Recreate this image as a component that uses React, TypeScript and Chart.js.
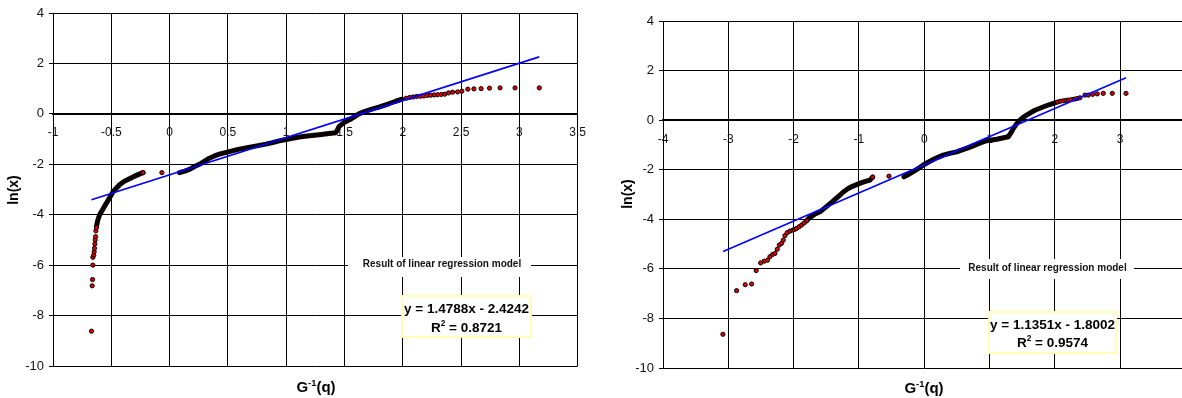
import React, { useEffect, useRef } from "react";
import { Chart, registerables } from "chart.js";

Chart.register(...registerables);

const FONT = 'Arial, "Liberation Sans", Helvetica, sans-serif';

// ---------- Axis ranges ----------
const yMin = -10;
const yMax = 4;
const yStep = 2;
const leftXMin = -1;
const leftXMax = 3.5;
const leftXStep = 0.5;
const rightXMin = -4;
const rightXMax = 4;
const rightXStep = 1;

// ---------- Left chart data ----------
const leftDenseAX = [-0.627, -0.615, -0.6, -0.585, -0.57, -0.55, -0.527, -0.505, -0.485, -0.455, -0.427, -0.4, -0.37, -0.34, -0.313, -0.27, -0.228];
const leftDenseAY = [-4.46, -4.2, -4.0, -3.88, -3.76, -3.6, -3.43, -3.25, -3.09, -2.94, -2.8, -2.71, -2.63, -2.56, -2.5, -2.41, -2.33];
const leftDenseBX = [0.085, 0.13, 0.171, 0.21, 0.256, 0.3, 0.342, 0.385, 0.427, 0.47, 0.513, 0.555, 0.598, 0.655, 0.712, 0.77, 0.826, 0.883, 0.94, 1.0, 1.054, 1.111, 1.2, 1.282, 1.35, 1.425, 1.44, 1.453, 1.475, 1.496, 1.525, 1.553, 1.59, 1.624, 1.665, 1.709, 1.75, 1.795, 1.84, 1.88, 1.94, 1.994];
const leftDenseBY = [-2.33, -2.27, -2.2, -2.1, -2.0, -1.88, -1.76, -1.67, -1.6, -1.55, -1.5, -1.45, -1.4, -1.35, -1.3, -1.25, -1.2, -1.14, -1.07, -1.02, -0.97, -0.92, -0.87, -0.83, -0.79, -0.75, -0.63, -0.51, -0.42, -0.34, -0.27, -0.21, -0.1, 0.0, 0.08, 0.15, 0.21, 0.27, 0.34, 0.4, 0.5, 0.58];
const leftMarkX = [-0.6695, -0.6638, -0.661, -0.658, -0.658, -0.65, -0.647, -0.644, -0.641, -0.638, -0.635, -0.632, -0.627, -0.228, -0.066, 2.03, 2.06, 2.09, 2.12, 2.15, 2.18, 2.21, 2.24, 2.27, 2.3, 2.33, 2.36, 2.393, 2.427, 2.47, 2.507, 2.558, 2.61, 2.672, 2.744, 2.835, 2.963, 3.171];
const leftMarkY = [-8.62, -6.82, -6.57, -6.0, -5.69, -5.6, -5.47, -5.33, -5.16, -5.0, -4.87, -4.64, -4.51, -2.33, -2.33, 0.62, 0.65, 0.67, 0.69, 0.7, 0.71, 0.73, 0.74, 0.75, 0.76, 0.77, 0.78, 0.83, 0.86, 0.87, 0.9, 0.98, 0.99, 1.0, 1.02, 1.03, 1.03, 1.03];
const leftFitX = [-0.67, 3.17];
const leftFitY = [-3.41, 2.26];
const leftEquation = "y = 1.4788x - 2.4242";
const leftR2 = "0.8721";

// ---------- Right chart data ----------
const rightDenseAX = [-1.801, -1.75, -1.68, -1.597, -1.53, -1.47, -1.41, -1.367, -1.3, -1.24, -1.17, -1.1, -1.035, -0.97, -0.9, -0.831, -0.79];
const rightDenseAY = [-4.06, -3.92, -3.8, -3.7, -3.56, -3.43, -3.3, -3.2, -3.05, -2.9, -2.77, -2.67, -2.6, -2.53, -2.47, -2.42, -2.3];
const rightDenseBX = [-0.311, -0.24, -0.168, -0.09, -0.015, 0.06, 0.138, 0.21, 0.291, 0.39, 0.496, 0.57, 0.649, 0.73, 0.802, 0.88, 0.955, 1.03, 1.108, 1.2, 1.286, 1.33, 1.363, 1.41, 1.465, 1.51, 1.567, 1.63, 1.695, 1.77, 1.848, 1.92, 2.002];
const rightDenseBY = [-2.29, -2.19, -2.08, -1.95, -1.81, -1.7, -1.59, -1.5, -1.41, -1.34, -1.28, -1.21, -1.14, -1.06, -0.98, -0.9, -0.83, -0.8, -0.77, -0.72, -0.67, -0.5, -0.34, -0.16, 0.0, 0.1, 0.2, 0.3, 0.4, 0.48, 0.56, 0.63, 0.7];
const rightMarkX = [-3.083, -2.873, -2.741, -2.643, -2.573, -2.505, -2.45, -2.399, -2.363, -2.322, -2.286, -2.251, -2.22, -2.184, -2.159, -2.133, -2.098, -2.057, -2.015, -1.985, -1.954, -1.915, -1.877, -1.84, -1.801, -0.79, -0.54, 2.04, 2.08, 2.128, 2.17, 2.21, 2.256, 2.3, 2.34, 2.384, 2.461, 2.512, 2.579, 2.65, 2.741, 2.879, 3.089];
const rightMarkY = [-8.64, -6.88, -6.64, -6.61, -6.07, -5.76, -5.69, -5.65, -5.51, -5.42, -5.38, -5.21, -5.04, -4.97, -4.84, -4.66, -4.54, -4.48, -4.44, -4.41, -4.37, -4.3, -4.23, -4.15, -4.06, -2.3, -2.26, 0.73, 0.76, 0.78, 0.8, 0.81, 0.83, 0.85, 0.87, 0.9, 1.01, 1.01, 1.04, 1.06, 1.08, 1.08, 1.08];
const rightFitX = [-3.08, 3.09];
const rightFitY = [-5.3, 1.71];
const rightEquation = "y = 1.1351x - 1.8002";
const rightR2 = "0.9574";

const resultLabel = "Result of linear regression model";
const yTitle = "ln(x)";

type Run = { t: string; sup?: boolean };

function zip(xs: number[], ys: number[]) {
  return xs.map((x, i) => ({ x, y: ys[i] }));
}

function fmt(v: number | string) {
  const n = Number(v);
  return String(Math.round(n * 100) / 100);
}

function drawRuns(ctx: CanvasRenderingContext2D, runs: Run[], cx: number, baseline: number, size: number) {
  const widths = runs.map((r) => {
    ctx.font = `bold ${r.sup ? size * 0.62 : size}px ${FONT}`;
    return ctx.measureText(r.t).width;
  });
  const total = widths.reduce((a, b) => a + b, 0);
  let x = cx - total / 2;
  ctx.textAlign = "left";
  ctx.textBaseline = "alphabetic";
  runs.forEach((r, i) => {
    ctx.font = `bold ${r.sup ? size * 0.62 : size}px ${FONT}`;
    ctx.fillText(r.t, x, r.sup ? baseline - size * 0.42 : baseline);
    x += widths[i];
  });
}

type Layout = {
  yTitleX: number;
  yTitleY: number;
  xTitleX: number;
  xTitleBase: number;
  resX: number;
  resY: number;
  resRect: [number, number, number, number];
  box: [number, number, number, number];
  line1Base: number;
  line2Base: number;
};

function makePlugin(layout: Layout, equation: string, r2: string) {
  return {
    id: "annot",
    afterDraw(chart: any) {
      const ctx: CanvasRenderingContext2D = chart.ctx;
      ctx.save();
      ctx.fillStyle = "#000";
      // y title
      ctx.save();
      ctx.translate(layout.yTitleX, layout.yTitleY);
      ctx.rotate(-Math.PI / 2);
      ctx.font = `bold 14px ${FONT}`;
      ctx.textAlign = "center";
      ctx.textBaseline = "middle";
      ctx.fillText(yTitle, 0, 0);
      ctx.restore();
      // x title
      ctx.fillStyle = "#000";
      drawRuns(ctx, [{ t: "G" }, { t: "-1", sup: true }, { t: "(q)" }], layout.xTitleX, layout.xTitleBase, 15);
      // result label
      const [rx, ry, rw, rh] = layout.resRect;
      ctx.fillStyle = "#fff";
      ctx.fillRect(rx, ry, rw, rh);
      ctx.fillStyle = "#111";
      ctx.font = `bold 10px ${FONT}`;
      ctx.textAlign = "center";
      ctx.textBaseline = "middle";
      ctx.fillText(resultLabel, layout.resX, layout.resY);
      // equation box
      const [bx, by, bw, bh] = layout.box;
      ctx.fillStyle = "#fff";
      ctx.fillRect(bx, by, bw, bh);
      ctx.strokeStyle = "#ffffb8";
      ctx.lineWidth = 2;
      ctx.strokeRect(bx, by, bw, bh);
      ctx.fillStyle = "#000";
      const cx = bx + bw / 2;
      drawRuns(ctx, [{ t: equation }], cx, layout.line1Base, 13.5);
      drawRuns(ctx, [{ t: "R" }, { t: "2", sup: true }, { t: " = " + r2 }], cx, layout.line2Base, 13.5);
      ctx.restore();
    },
  };
}

function buildConfig(opts: {
  denseA: { x: number; y: number }[];
  denseB: { x: number; y: number }[];
  marks: { x: number; y: number }[];
  fit: { x: number; y: number }[];
  xMin: number;
  xMax: number;
  xStep: number;
  yWidth: number;
  padding: { top: number; bottom: number; right: number; left: number };
  plugin: any;
}): any {
  const denseStyle = {
    showLine: true,
    borderColor: "#0a0000",
    borderWidth: 5,
    borderCapStyle: "round",
    borderJoinStyle: "round",
    pointRadius: 0,
    order: 3,
  };
  return {
    type: "scatter",
    data: {
      datasets: [
        { ...denseStyle, data: opts.denseA },
        { ...denseStyle, data: opts.denseB },
        {
          data: opts.marks,
          showLine: false,
          pointRadius: 2.1,
          pointBorderWidth: 1,
          pointBorderColor: "#000",
          pointBackgroundColor: "#e00000",
          order: 2,
        },
        {
          data: opts.fit,
          showLine: true,
          borderColor: "#0000ff",
          borderWidth: 1.6,
          pointRadius: 0,
          order: 1,
        },
      ],
    },
    options: {
      animation: false,
      responsive: false,
      events: [],
      layout: { padding: opts.padding },
      plugins: { legend: { display: false }, tooltip: { enabled: false }, title: { display: false } },
      scales: {
        x: {
          type: "linear",
          position: { y: 0 },
          min: opts.xMin,
          max: opts.xMax,
          ticks: {
            stepSize: opts.xStep,
            autoSkip: false,
            maxRotation: 0,
            padding: 4,
            color: "#111",
            font: { family: FONT, size: 12 },
            callback: (v: any) => fmt(v),
          },
          grid: { color: "#000", lineWidth: 1, tickLength: 8, drawTicks: true },
          border: { display: true, color: "#000", width: 2 },
        },
        y: {
          type: "linear",
          position: "left",
          min: yMin,
          max: yMax,
          ticks: {
            stepSize: yStep,
            padding: 5,
            color: "#111",
            font: { family: FONT, size: 13 },
            callback: (v: any) => fmt(v),
          },
          grid: { color: "#000", lineWidth: 1, tickLength: 4, drawTicks: true },
          border: { display: true, color: "#000", width: 1 },
          afterFit: (s: any) => {
            s.width = opts.yWidth;
          },
        },
      },
    },
    plugins: [opts.plugin],
  };
}

export default function App() {
  const leftRef = useRef<HTMLCanvasElement | null>(null);
  const rightRef = useRef<HTMLCanvasElement | null>(null);

  useEffect(() => {
    const leftLayout: Layout = {
      yTitleX: 14.5,
      yTitleY: 190,
      xTitleX: 316,
      xTitleBase: 392,
      resX: 442,
      resY: 264,
      resRect: [348, 257, 183, 20],
      box: [402, 296, 129, 41],
      line1Base: 312.5,
      line2Base: 332,
    };
    const rightLayout: Layout = {
      yTitleX: 38,
      yTitleY: 194,
      xTitleX: 334,
      xTitleBase: 393,
      resX: 457.5,
      resY: 268,
      resRect: [370, 259, 174, 20],
      box: [399, 312, 127, 41],
      line1Base: 328.5,
      line2Base: 346.5,
    };
    const left = new Chart(
      leftRef.current as HTMLCanvasElement,
      buildConfig({
        denseA: zip(leftDenseAX, leftDenseAY),
        denseB: zip(leftDenseBX, leftDenseBY),
        marks: zip(leftMarkX, leftMarkY),
        fit: zip(leftFitX, leftFitY),
        xMin: leftXMin,
        xMax: leftXMax,
        xStep: leftXStep,
        yWidth: 53,
        padding: { top: 13, bottom: 32, right: 11, left: 0 },
        plugin: makePlugin(leftLayout, leftEquation, leftR2),
      })
    );
    const right = new Chart(
      rightRef.current as HTMLCanvasElement,
      buildConfig({
        denseA: zip(rightDenseAX, rightDenseAY),
        denseB: zip(rightDenseBX, rightDenseBY),
        marks: zip(rightMarkX, rightMarkY),
        fit: zip(rightFitX, rightFitY),
        xMin: rightXMin,
        xMax: rightXMax,
        xStep: rightXStep,
        yWidth: 73,
        padding: { top: 21, bottom: 30, right: 14.5, left: 0 },
        plugin: makePlugin(rightLayout, rightEquation, rightR2),
      })
    );
    return () => {
      left.destroy();
      right.destroy();
    };
  }, []);

  return (
    <div
      style={{
        position: "fixed",
        left: 0,
        top: 0,
        width: 1182,
        height: 398,
        overflow: "hidden",
        background: "#fff",
      }}
    >
      <canvas ref={leftRef} width={590} height={398} style={{ position: "absolute", left: 0, top: 0 }} />
      <canvas ref={rightRef} width={610} height={398} style={{ position: "absolute", left: 590, top: 0 }} />
    </div>
  );
}
